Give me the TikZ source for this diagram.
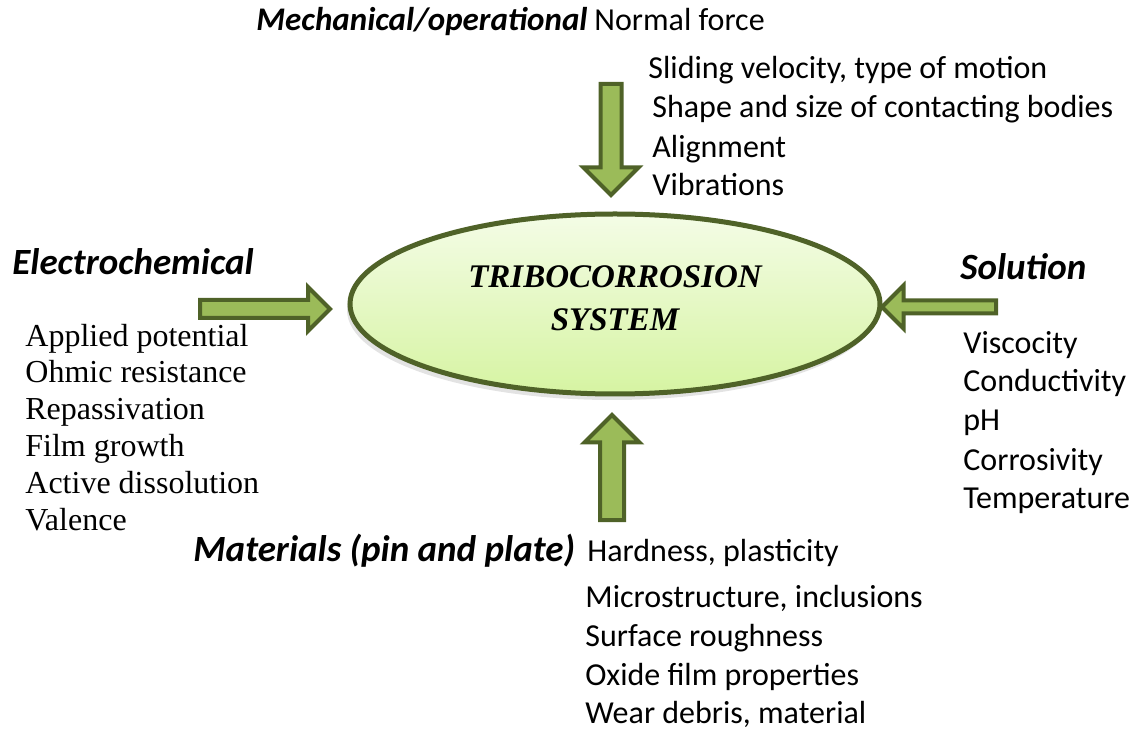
\documentclass[tikz,border=0pt]{standalone}
\usepackage{fontspec}
\setmainfont{Liberation Serif}
\newfontfamily\calibri{Carlito}
\usetikzlibrary{shapes.geometric,shadows}

\definecolor{arrowfill}{HTML}{9BBB59}
\definecolor{arrowline}{HTML}{4F6228}
\definecolor{ovaltop}{HTML}{F4FCE6}
\definecolor{ovalbottom}{HTML}{D6F4A2}

\tikzset{
  fatarrow/.style={draw=arrowline, fill=arrowfill, line width=2pt, line join=miter},
  heading/.style={anchor=base west, inner sep=0pt, font=\calibri\bfseries\itshape\fontsize{18.5}{22}\selectfont},
  factor/.style={anchor=base west, inner sep=0pt, font=\calibri\fontsize{16}{19}\selectfont},
  serifitem/.style={anchor=base west, inner sep=0pt, font=\fontsize{16}{19}\selectfont},
  systemtext/.style={align=center, inner sep=0pt, font=\bfseries\itshape\fontsize{16.5}{21.5}\selectfont},
}

% block arrow: tail, direction, length, shaft half width, head half width
\newcommand{\blockarrow}[5]{%
  \draw[fatarrow, shift={(#1)}, rotate=#2]
    (0,-#4) -- ({#3-#5},-#4) -- ({#3-#5},-#5) -- (#3,0)
    -- ({#3-#5},#5) -- ({#3-#5},#4) -- (0,#4) -- cycle;
}

\begin{document}
\begin{tikzpicture}[x=0.5pt, y=-0.5pt]
    \useasboundingbox (0,0) rectangle (1139,731);

    % Central system
    \node[ellipse, draw=arrowline, line width=2.5pt, minimum width=265pt, minimum height=90pt,
          top color=ovaltop, bottom color=ovalbottom,
          drop shadow={shadow xshift=-1.5pt, shadow yshift=-3pt, opacity=0.22}]
          (tribo) at (615,304) {};
    \node[systemtext] (tribotext) at (615,298) {TRIBOCORROSION\\SYSTEM};

    % Mechanical/operational
    \node[heading, font=\calibri\bfseries\itshape\fontsize{16.5}{19}\selectfont] (mech) at (256,31) {Mechanical/operational};
    \node[factor] (mech1) at (594,31) {Normal force};
    \node[factor] (mech2) at (648,79) {Sliding velocity, type of motion};
    \node[factor] (mech3) at (652,118) {Shape and size of contacting bodies};
    \node[factor] (mech4) at (652,158) {Alignment};
    \node[factor] (mech5) at (652,196) {Vibrations};
    \coordinate (mechtail) at (611,84);
    \blockarrow{mechtail}{-90}{111}{10.5}{27.5}

    % Electrochemical
    \node[heading] (elec) at (12,275) {Electrochemical};
    \node[serifitem] (elec1) at (25,347) {Applied potential};
    \node[serifitem] (elec2) at (25,383) {Ohmic resistance};
    \node[serifitem] (elec3) at (25,420) {Repassivation};
    \node[serifitem] (elec4) at (25,457) {Film growth};
    \node[serifitem] (elec5) at (25,494) {Active dissolution};
    \node[serifitem] (elec6) at (25,530) {Valence};
    \coordinate (electail) at (200,309);
    \blockarrow{electail}{0}{130}{9}{22}

    % Solution
    \node[heading] (sol) at (960,280) {Solution};
    \node[factor] (sol1) at (963,354) {Viscocity};
    \node[factor] (sol2) at (963,392) {Conductivity};
    \node[factor] (sol3) at (963,431) {pH};
    \node[factor] (sol4) at (963,471) {Corrosivity};
    \node[factor] (sol5) at (963,509) {Temperature};
    \coordinate (soltail) at (996,307);
    \blockarrow{soltail}{180}{114}{6.5}{21.5}

    % Materials
    \node[heading] (mat) at (193,561) {Materials (pin and plate)};
    \node[factor] (mat1) at (587,561) {Hardness, plasticity};
    \node[factor] (mat2) at (585,607) {Microstructure, inclusions};
    \node[factor] (mat3) at (585,646) {Surface roughness};
    \node[factor] (mat4) at (585,685) {Oxide film properties};
    \node[factor] (mat5) at (585,723) {Wear debris, material};
    \coordinate (mattail) at (612,520);
    \blockarrow{mattail}{90}{105}{12}{27.5}
\end{tikzpicture}
\end{document}
